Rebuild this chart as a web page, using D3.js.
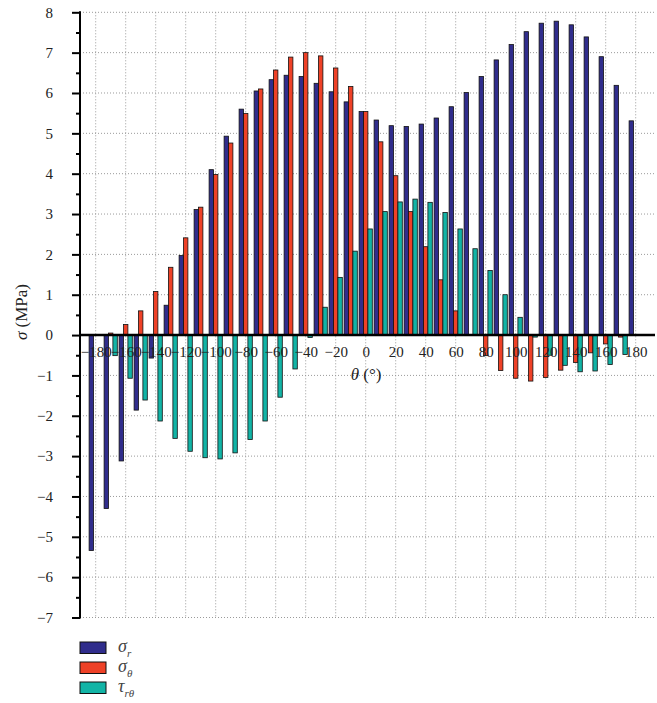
<!DOCTYPE html>
<html>
<head>
<meta charset="utf-8">
<script src="https://cdn.jsdelivr.net/npm/d3@7"></script>
<style>
  body { margin: 0; background: #fff; }
  svg { display: block; }
  svg text { font-family: "Liberation Serif", "Tinos", "DejaVu Serif", serif; }
</style>
</head>
<body>
<div id="chart"></div>
<script>
const thetas = [-180, -170, -160, -150, -140, -130, -120, -110, -100, -90, -80, -70, -60, -50, -40, -30, -20, -10,
  0, 10, 20, 30, 40, 50, 60, 70, 80, 90, 100, 110, 120, 130, 140, 150, 160, 170, 180];

const sigmaR = [-5.34, -4.30, -3.12, -1.86, -0.57, 0.74, 1.97, 3.11, 4.10, 4.93, 5.60, 6.05, 6.33, 6.44, 6.41, 6.24, 6.03, 5.78,
  5.54, 5.33, 5.19, 5.17, 5.23, 5.38, 5.66, 6.01, 6.41, 6.82, 7.20, 7.52, 7.73, 7.78, 7.69, 7.39, 6.90, 6.19, 5.31];

const sigmaTheta = [0, 0.05, 0.26, 0.60, 1.08, 1.68, 2.41, 3.17, 3.98, 4.76, 5.49, 6.10, 6.57, 6.89, 7.00, 6.92, 6.62, 6.16,
  5.54, 4.79, 3.95, 3.06, 2.19, 1.37, 0.60, 0, -0.51, -0.88, -1.07, -1.14, -1.05, -0.87, -0.68, -0.44, -0.22, -0.05, 0];

const tauRTheta = [0, -0.51, -1.07, -1.61, -2.13, -2.56, -2.88, -3.04, -3.07, -2.92, -2.59, -2.13, -1.54, -0.84, -0.06, 0.69, 1.43, 2.08,
  2.63, 3.06, 3.30, 3.37, 3.29, 3.04, 2.63, 2.14, 1.60, 1.00, 0.44, -0.05, -0.50, -0.75, -0.91, -0.89, -0.73, -0.48, 0];

const seriesKeys = ["r", "theta", "tau"];
const seriesColors = ["#302d8c", "#ee4127", "#12b4a6"];

const xTicks = [-180, -160, -140, -120, -100, -80, -60, -40, -20, 0, 20, 40, 60, 80, 100, 120, 140, 160, 180];
const yTicks = [-7, -6, -5, -4, -3, -2, -1, 0, 1, 2, 3, 4, 5, 6, 7, 8];
const yMinorTicks = [-6.5, -5.5, -4.5, -3.5, -2.5, -1.5, -0.5, 0.5, 1.5, 2.5, 3.5, 4.5, 5.5, 6.5, 7.5];

const width = 657, height = 703;
const plotLeft = 80, plotRight = 655;

const rows = thetas.map((t, i) => ({ theta: t, values: [sigmaR[i], sigmaTheta[i], tauRTheta[i]] }));

const x = d3.scaleLinear().domain([-180, 180]).range([95.7, 635.7]);
const sub = d3.scaleBand().domain(seriesKeys).range([-6.6, 6.6]);
const y = d3.scaleLinear().domain([-7, 8]).range([617.5, 12.3]);

const svg = d3.select("#chart")
  .append("svg")
  .attr("width", width)
  .attr("height", height);

// grid
const grid = svg.append("g")
  .attr("stroke", "#9a9a9a")
  .attr("stroke-width", 1)
  .attr("stroke-dasharray", "1,2");

grid.selectAll("line.h")
  .data(yTicks)
  .join("line")
  .attr("class", "h")
  .attr("x1", plotLeft)
  .attr("x2", plotRight)
  .attr("y1", d => y(d))
  .attr("y2", d => y(d));

grid.selectAll("line.v")
  .data(xTicks)
  .join("line")
  .attr("class", "v")
  .attr("x1", d => x(d))
  .attr("x2", d => x(d))
  .attr("y1", y(8))
  .attr("y2", y(-7));

// bars
svg.append("g")
  .attr("stroke", "#111")
  .attr("stroke-width", 0.8)
  .selectAll("g")
  .data(rows)
  .join("g")
  .attr("transform", d => `translate(${x(d.theta)},0)`)
  .selectAll("rect")
  .data(d => d.values.map((v, i) => ({ key: seriesKeys[i], value: v, color: seriesColors[i] })))
  .join("rect")
  .attr("x", d => sub(d.key))
  .attr("width", sub.bandwidth())
  .attr("y", d => y(Math.max(0, d.value)))
  .attr("height", d => Math.abs(y(d.value) - y(0)))
  .attr("fill", d => d.color);

// y axis
const yAxis = svg.append("g")
  .attr("transform", `translate(${plotLeft},0)`)
  .call(d3.axisLeft(y).tickValues(yTicks).tickSize(8).tickPadding(19));
yAxis.select(".domain").remove();
yAxis.selectAll(".tick line").attr("stroke", "#000").attr("stroke-width", 2);
yAxis.selectAll(".tick text")
  .attr("font-size", 15)
  .attr("fill", "#222");

svg.append("g")
  .attr("transform", `translate(${plotLeft},0)`)
  .call(d3.axisLeft(y).tickValues(yMinorTicks).tickSize(4).tickFormat(""))
  .call(g => g.select(".domain").remove())
  .selectAll(".tick line").attr("stroke", "#000").attr("stroke-width", 2);

svg.append("line")
  .attr("x1", plotLeft)
  .attr("x2", plotLeft)
  .attr("y1", y(8) - 1)
  .attr("y2", y(-7) + 1)
  .attr("stroke", "#000")
  .attr("stroke-width", 2);

// x axis along zero
const xAxis = svg.append("g")
  .attr("transform", `translate(0,${y(0)})`)
  .call(d3.axisBottom(x).tickValues(xTicks).tickSize(0).tickPadding(11));
xAxis.select(".domain").remove();
xAxis.selectAll(".tick text")
  .attr("font-size", 15)
  .attr("fill", "#222");

svg.append("line")
  .attr("x1", plotLeft)
  .attr("x2", plotRight)
  .attr("y1", y(0))
  .attr("y2", y(0))
  .attr("stroke", "#000")
  .attr("stroke-width", 2.5);

// axis titles
const xTitle = svg.append("text")
  .attr("x", 366)
  .attr("y", 380)
  .attr("text-anchor", "middle")
  .attr("font-size", 17)
  .attr("fill", "#222");
xTitle.append("tspan").attr("font-style", "italic").text("θ");
xTitle.append("tspan").text(" (°)");

const yTitle = svg.append("text")
  .attr("transform", "translate(27,312) rotate(-90)")
  .attr("text-anchor", "middle")
  .attr("font-size", 17)
  .attr("fill", "#222");
yTitle.append("tspan").attr("font-style", "italic").text("σ");
yTitle.append("tspan").text(" (MPa)");

// legend
const legendLabels = [["σ", "r"], ["σ", "θ"], ["τ", "rθ"]];
const legend = svg.append("g")
  .selectAll("g")
  .data(legendLabels)
  .join("g")
  .attr("transform", (d, i) => `translate(80,${642 + i * 20})`);

legend.append("rect")
  .attr("width", 26)
  .attr("height", 11.5)
  .attr("fill", (d, i) => seriesColors[i])
  .attr("stroke", "#111")
  .attr("stroke-width", 1);

const lt = legend.append("text")
  .attr("x", 38)
  .attr("y", 10)
  .attr("font-size", 18)
  .attr("font-style", "italic")
  .attr("fill", "#444");
lt.append("tspan").text(d => d[0]);
lt.append("tspan")
  .attr("font-size", 11)
  .attr("dy", 5)
  .text(d => d[1]);
</script>
</body>
</html>
